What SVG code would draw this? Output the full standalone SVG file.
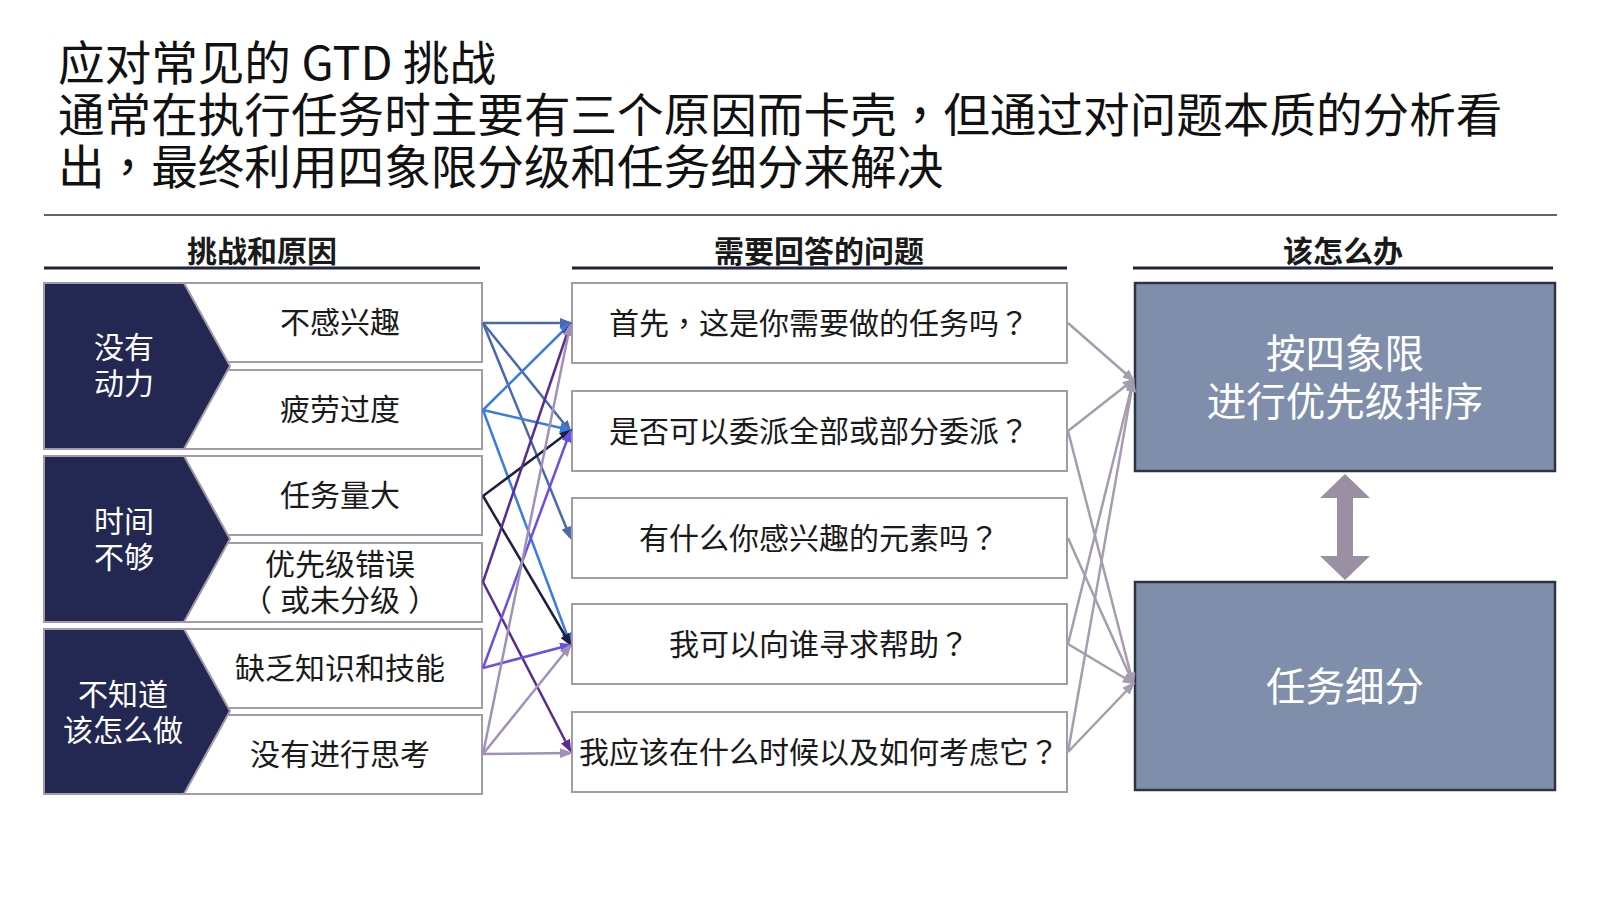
<svg xmlns="http://www.w3.org/2000/svg" width="1600" height="900" viewBox="0 0 1600 900">
<style>
  text { font-family: "Noto Sans CJK SC", "Noto Sans", "Liberation Sans", sans-serif; }
  .p { font-family: "Noto Sans CJK TC", "Noto Sans CJK SC", sans-serif; }
  .title { font-size: 46.6px; fill: #111111; }
  .hdr { font-size: 30px; font-weight: bold; fill: #1a1a1a; text-anchor: middle; dominant-baseline: central; }
  .hline { stroke: #1f2240; stroke-width: 3; }
  .row { fill: #ffffff; stroke: #a29ca9; stroke-width: 2; }
  .chev { fill: #232852; stroke: #a29ca9; stroke-width: 2; }
  .chevtxt { font-size: 30px; fill: #ffffff; text-anchor: middle; dominant-baseline: central; }
  .rowtxt { font-size: 30px; fill: #1a1a1a; text-anchor: middle; dominant-baseline: central; }
  .qbox { fill: #ffffff; stroke: #a29ca9; stroke-width: 2; }
  .sol { fill: #7f8fab; stroke: #2e3442; stroke-width: 2.5; }
  .soltxt { font-size: 39.5px; fill: #ffffff; text-anchor: middle; dominant-baseline: central; }
  .c { fill: none; stroke-width: 2.5; }
  .c1 { stroke: #4a69ac; marker-end: url(#m1); }
  .c2 { stroke: #3b7ce0; marker-end: url(#m2); }
  .c3 { stroke: #1e1f3f; marker-end: url(#m3); }
  .c4 { stroke: #5b2b91; marker-end: url(#m4); }
  .c5 { stroke: #6b4fe2; marker-end: url(#m5); }
  .c6 { stroke: #a191b7; marker-end: url(#m6); }
  .cg { stroke: #a59dae; marker-end: url(#mg); }
</style>
<defs>
  <marker id="m1" markerUnits="userSpaceOnUse" markerWidth="13" markerHeight="10" refX="10" refY="5" orient="auto"><path d="M0,0 L13,5 L0,10 z" fill="#4a69ac"/></marker>
  <marker id="m2" markerUnits="userSpaceOnUse" markerWidth="13" markerHeight="10" refX="10" refY="5" orient="auto"><path d="M0,0 L13,5 L0,10 z" fill="#3b7ce0"/></marker>
  <marker id="m3" markerUnits="userSpaceOnUse" markerWidth="13" markerHeight="10" refX="10" refY="5" orient="auto"><path d="M0,0 L13,5 L0,10 z" fill="#1e1f3f"/></marker>
  <marker id="m4" markerUnits="userSpaceOnUse" markerWidth="13" markerHeight="10" refX="10" refY="5" orient="auto"><path d="M0,0 L13,5 L0,10 z" fill="#5b2b91"/></marker>
  <marker id="m5" markerUnits="userSpaceOnUse" markerWidth="13" markerHeight="10" refX="10" refY="5" orient="auto"><path d="M0,0 L13,5 L0,10 z" fill="#6b4fe2"/></marker>
  <marker id="m6" markerUnits="userSpaceOnUse" markerWidth="13" markerHeight="10" refX="10" refY="5" orient="auto"><path d="M0,0 L13,5 L0,10 z" fill="#a191b7"/></marker>
  <marker id="mg" markerUnits="userSpaceOnUse" markerWidth="13" markerHeight="10" refX="10" refY="5" orient="auto"><path d="M0,0 L13,5 L0,10 z" fill="#a59dae"/></marker>
</defs>
<rect x="0" y="0" width="1600" height="900" fill="#ffffff"/>

<g id="title">
  <text class="title" x="58" y="80">应对常见的 GTD 挑战</text>
  <text class="title" x="58" y="132">通常在执行任务时主要有三个原因而卡壳<tspan class="p">，</tspan>但通过对问题本质的分析看</text>
  <text class="title" x="58" y="184">出<tspan class="p">，</tspan>最终利用四象限分级和任务细分来解决</text>
  <line x1="44" y1="215" x2="1557" y2="215" stroke="#333333" stroke-width="1.5"/>
</g>

<g id="headers">
  <text class="hdr" x="262" y="249">挑战和原因</text>
  <line class="hline" x1="44" y1="268" x2="480" y2="268"/>
  <text class="hdr" x="819" y="249">需要回答的问题</text>
  <line class="hline" x1="572" y1="268" x2="1067" y2="268"/>
  <text class="hdr" x="1343" y="249">该怎么办</text>
  <line class="hline" x1="1133" y1="268" x2="1553" y2="268"/>
</g>

<g id="group-motivation">
  <rect class="row" x="44" y="283" width="438" height="79"/>
  <rect class="row" x="44" y="370" width="438" height="79"/>
  <polygon class="chev" points="44,283 184,283 230,366 184,449 44,449"/>
  <text class="chevtxt" x="124" y="345">没有</text>
  <text class="chevtxt" x="124" y="381">动力</text>
  <text class="rowtxt" x="340" y="320">不感兴趣</text>
  <text class="rowtxt" x="340" y="407">疲劳过度</text>
</g>

<g id="group-time">
  <rect class="row" x="44" y="456" width="438" height="79"/>
  <rect class="row" x="44" y="543" width="438" height="79"/>
  <polygon class="chev" points="44,456 184,456 230,539 184,622 44,622"/>
  <text class="chevtxt" x="124" y="519">时间</text>
  <text class="chevtxt" x="124" y="555">不够</text>
  <text class="rowtxt" x="340" y="493">任务量大</text>
  <text class="rowtxt" x="340" y="562">优先级错误</text>
  <text class="rowtxt" x="340" y="598"><tspan class="p">（</tspan><tspan dx="8">或未分级</tspan><tspan class="p" dx="8">）</tspan></text>
</g>

<g id="group-knowhow">
  <rect class="row" x="44" y="629" width="438" height="79"/>
  <rect class="row" x="44" y="715" width="438" height="79"/>
  <polygon class="chev" points="44,629 184,629 230,711 184,794 44,794"/>
  <text class="chevtxt" x="123" y="692">不知道</text>
  <text class="chevtxt" x="123" y="728">该怎么做</text>
  <text class="rowtxt" x="340" y="666">缺乏知识和技能</text>
  <text class="rowtxt" x="340" y="752">没有进行思考</text>
</g>

<g id="q1"><rect class="qbox" x="572" y="283" width="495" height="80"/><text class="rowtxt" x="819" y="321">首先<tspan class="p">，</tspan>这是你需要做的任务吗<tspan class="p">？</tspan></text></g>
<g id="q2"><rect class="qbox" x="572" y="391" width="495" height="80"/><text class="rowtxt" x="819" y="429">是否可以委派全部或部分委派<tspan class="p">？</tspan></text></g>
<g id="q3"><rect class="qbox" x="572" y="498" width="495" height="80"/><text class="rowtxt" x="819" y="536">有什么你感兴趣的元素吗<tspan class="p">？</tspan></text></g>
<g id="q4"><rect class="qbox" x="572" y="604" width="495" height="80"/><text class="rowtxt" x="819" y="642">我可以向谁寻求帮助<tspan class="p">？</tspan></text></g>
<g id="q5"><rect class="qbox" x="572" y="712" width="495" height="80"/><text class="rowtxt" x="819" y="750">我应该在什么时候以及如何考虑它<tspan class="p">？</tspan></text></g>

<g id="sol-priority">
  <rect class="sol" x="1135" y="283" width="420" height="188"/>
  <text class="soltxt" x="1345" y="350">按四象限</text>
  <text class="soltxt" x="1345" y="398">进行优先级排序</text>
</g>
<g id="sol-breakdown">
  <rect class="sol" x="1135" y="582" width="420" height="208"/>
  <text class="soltxt" x="1345" y="683">任务细分</text>
</g>

<g id="connectors">
  <line class="c c1" x1="483" y1="323" x2="570" y2="323"/>
  <line class="c c1" x1="483" y1="323" x2="570" y2="431"/>
  <line class="c c1" x1="483" y1="323" x2="570" y2="537"/>
  <line class="c c2" x1="483" y1="410" x2="570" y2="324"/>
  <line class="c c2" x1="483" y1="410" x2="570" y2="430"/>
  <line class="c c2" x1="483" y1="410" x2="570" y2="643"/>
  <line class="c c3" x1="483" y1="496" x2="570" y2="431"/>
  <line class="c c3" x1="483" y1="496" x2="570" y2="644"/>
  <line class="c c4" x1="483" y1="582" x2="570" y2="325"/>
  <line class="c c4" x1="483" y1="582" x2="570" y2="750"/>
  <line class="c c5" x1="483" y1="668" x2="570" y2="432"/>
  <line class="c c5" x1="483" y1="668" x2="570" y2="645"/>
  <line class="c c6" x1="483" y1="754" x2="570" y2="326"/>
  <line class="c c6" x1="483" y1="754" x2="570" y2="646"/>
  <line class="c c6" x1="483" y1="754" x2="570" y2="753"/>

  <line class="c cg" x1="1068" y1="323" x2="1133" y2="380"/>
  <line class="c cg" x1="1068" y1="431" x2="1133" y2="380"/>
  <line class="c cg" x1="1068" y1="431" x2="1133" y2="683"/>
  <line class="c cg" x1="1068" y1="538" x2="1133" y2="683"/>
  <line class="c cg" x1="1068" y1="644" x2="1133" y2="381"/>
  <line class="c cg" x1="1068" y1="644" x2="1133" y2="683"/>
  <line class="c cg" x1="1068" y1="752" x2="1133" y2="382"/>
  <line class="c cg" x1="1068" y1="752" x2="1133" y2="684"/>

  <polygon points="1345,474 1370,498 1353,498 1353,556 1370,556 1345,580 1320,556 1337,556 1337,498 1320,498" fill="#9a8fa3"/>
</g>
</svg>
